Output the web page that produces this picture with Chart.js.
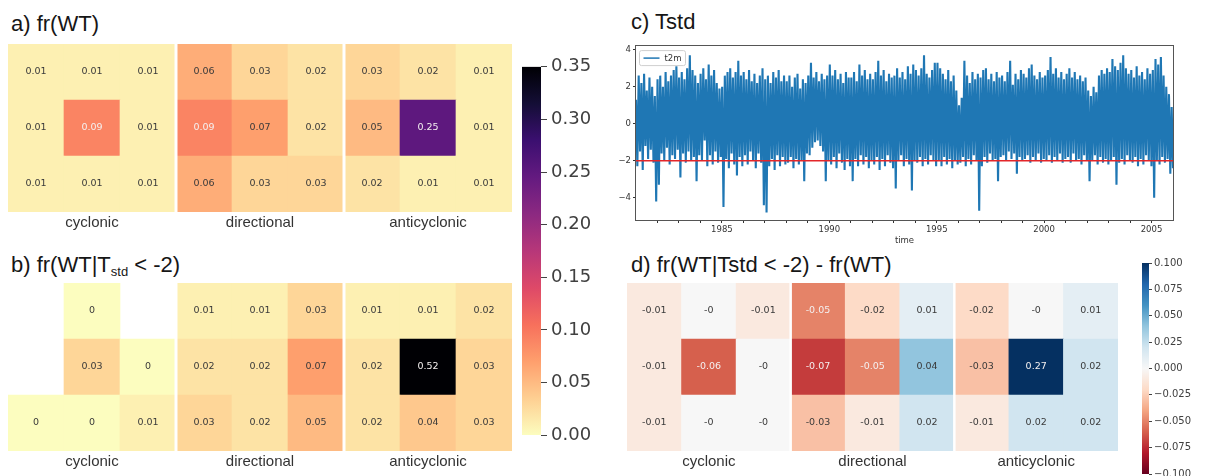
<!DOCTYPE html>
<html>
<head>
<meta charset="utf-8">
<script src="https://cdn.jsdelivr.net/npm/chart.js@4.4.1/dist/chart.umd.min.js"></script>
<style>
  body { margin: 0; width: 1212px; height: 476px; overflow: hidden; background: #fff; position: relative; }
  .box { position: absolute; }
  .title { position: absolute; font-family: 'Liberation Sans', Arial, sans-serif; font-size: 22px; line-height: 26px; color: #161616; white-space: nowrap; }
  .title sub { font-size: 13px; vertical-align: -4px; line-height: 0; }
</style>
</head>
<body>
<div class="title" style="left:11px;top:11px">a) fr(WT)</div>
<div class="title" style="left:11px;top:252px">b) fr(WT|T<sub>std</sub> &lt; -2)</div>
<div class="title" style="left:631px;top:9px">c) Tstd</div>
<div class="title" style="left:631px;top:252px">d) fr(WT|Tstd &lt; -2) - fr(WT)</div>

<div class="box" style="left:8px;top:44px;width:504px;height:190px"><canvas id="hmA"></canvas></div>
<div class="box" style="left:8px;top:283px;width:504px;height:190px"><canvas id="hmB"></canvas></div>
<div class="box" style="left:522px;top:52px;width:90px;height:398px"><canvas id="cbA"></canvas></div>
<div class="box" style="left:596px;top:38px;width:584px;height:210px"><canvas id="tsC"></canvas></div>
<div class="box" style="left:627px;top:283px;width:491px;height:190px"><canvas id="hmD"></canvas></div>
<div class="box" style="left:1142px;top:255px;width:70px;height:229px"><canvas id="cbD"></canvas></div>

<script>
"use strict";

/* ---- data ---- */
var groups = ['cyclonic', 'directional', 'anticyclonic'];

// a) fr(WT), rows top -> bottom
var frWT = [
  [0.01, 0.01, 0.01, 0.06, 0.03, 0.02, 0.03, 0.02, 0.01],
  [0.01, 0.09, 0.01, 0.09, 0.07, 0.02, 0.05, 0.25, 0.01],
  [0.01, 0.01, 0.01, 0.06, 0.03, 0.03, 0.02, 0.01, 0.01]
];
// b) fr(WT | Tstd < -2), null = no data
var frCold = [
  [null, 0,    null, 0.01, 0.01, 0.03, 0.01, 0.01, 0.02],
  [null, 0.03, 0,    0.02, 0.02, 0.07, 0.02, 0.52, 0.03],
  [0,    0,    0.01, 0.03, 0.02, 0.05, 0.02, 0.04, 0.03]
];
// d) difference b - a
var frDiff = [
  [-0.01, -0,    -0.01, -0.05, -0.02, 0.01, -0.02, -0,   0.01],
  [-0.01, -0.06, -0,    -0.07, -0.05, 0.04, -0.03, 0.27, 0.02],
  [-0.01, -0,    -0,    -0.03, -0.01, 0.02, -0.01, 0.02, 0.02]
];

var cbRangeA = [0, 0.35], cbStepA = 0.05;
var cbRangeD = [-0.1, 0.1], cbStepD = 0.025;

// c) standardised t2m: alternating high / low swings, one row per year
var tStart = 1981, tEnd = 2006;
var t2m = [
  1.3,-2.3, 2.6,-1.5, 2.2,-2.5, 2.7,-1.2, 1.8,-1.9, 2.5,-1.4, 2.0,-2.1, 1.5,-4.2,
  2.4,-3.3, 2.6,-1.6, 2.0,-2.0, 2.8,-1.3, 2.3,-2.2, 2.6,-1.7, 2.9,-1.9, 3.1,-1.4,
  2.5,-2.9, 2.8,-1.6, 2.4,-2.1, 3.0,-1.5, 3.7,-2.0, 2.9,-1.8, 2.6,-3.1, 2.2,-1.7,
  2.7,-2.0, 3.0,-0.9, 2.4,-2.3, 3.2,-1.7, 2.6,-2.2, 2.9,-1.5, 2.2,-2.1, 1.9,-1.8,
  2.0,-4.5, 2.6,-1.9, 2.8,-2.4, 3.0,-1.6, 2.5,-2.2, 2.8,-2.8, 3.4,-1.8, 2.6,-2.3,
  2.8,-1.7, 2.4,-2.2, 2.9,-1.5, 2.3,-2.0, 2.7,-2.4, 2.2,-1.6, 2.6,-2.1, 3.0,-4.4,
  2.4,-4.8, 2.6,-2.3, 2.2,-1.9, 2.8,-2.5, 2.5,-1.7, 2.9,-2.3, 2.3,-1.8, 2.6,-2.2,
  2.3,-2.1, 2.6,-1.8, 2.0,-2.4, 2.5,-1.9, 2.7,-2.2, 1.9,-2.0, 2.4,-3.1, 2.2,-1.6,
  2.6,-1.7, 3.3,-1.3, 2.5,-1.0, 2.8,-0.9, 2.3,-1.2, 2.7,-1.5, 2.4,-3.1, 2.6,-2.0,
  3.2,-2.2, 2.6,-1.8, 2.9,-2.4, 2.4,-1.6, 2.7,-2.1, 2.2,-2.5, 2.8,-1.9, 2.5,-2.3,
  2.5,-3.1, 2.8,-1.9, 2.3,-2.3, 3.2,-1.7, 2.6,-2.2, 2.9,-1.8, 2.4,-2.4, 2.7,-2.0,
  2.4,-2.2, 2.8,-1.8, 3.4,-2.5, 2.6,-1.9, 2.9,-2.3, 2.3,-1.7, 2.7,-2.1, 2.5,-2.4,
  2.6,-3.5, 3.0,-2.0, 2.5,-1.7, 2.8,-2.3, 2.4,-1.9, 3.1,-2.2, 2.7,-3.6, 3.2,-2.0,
  2.9,-2.1, 2.6,-1.8, 3.0,-2.3, 3.7,-1.9, 2.7,-2.2, 2.5,-1.7, 2.9,-2.0, 3.3,-2.3,
  3.3,-2.0, 3.0,-2.3, 2.7,-1.8, 2.4,-2.2, 2.9,-1.9, 2.3,-2.4, 2.6,-2.0, 1.8,-2.2,
  1.0,-2.1, 1.4,-1.8, 3.4,-2.3, 2.6,-1.9, 2.2,-2.2, 2.8,-1.7, 2.4,-2.0, 2.7,-4.7,
  2.5,-2.3, 2.9,-1.8, 3.0,-2.1, 2.4,-1.6, 2.7,-2.0, 2.3,-1.9, 2.8,-3.1, 2.5,-1.8,
  2.6,-1.7, 2.3,-2.0, 2.8,-1.5, 3.4,-1.9, 2.1,-1.6, 2.7,-2.7, 2.4,-1.8, 2.9,-2.0,
  2.7,-1.9, 2.5,-1.7, 3.0,-2.1, 3.2,-1.8, 2.6,-2.0, 2.4,-1.6, 2.8,-2.1, 2.5,-1.9,
  2.6,-2.0, 2.9,-1.7, 3.6,-2.1, 2.7,-1.8, 3.0,-2.0, 2.5,-1.6, 2.8,-2.1, 2.4,-1.9,
  2.7,-1.8, 3.0,-2.1, 2.5,-1.6, 2.8,-2.0, 2.4,-1.9, 2.6,-2.2, 2.3,-1.7, 2.5,-2.0,
  1.8,-3.1, 1.5,-2.0, 2.0,-1.7, 1.7,-2.2, 2.6,-1.8, 2.9,-2.1, 2.7,-1.9, 3.0,-2.2,
  2.8,-2.0, 3.5,-1.8, 3.1,-3.3, 2.9,-2.1, 3.3,-1.9, 3.7,-2.2, 3.0,-1.7, 2.7,-2.0,
  2.9,-2.1, 2.5,-1.8, 3.1,-2.3, 2.6,-1.9, 2.8,-2.2, 2.4,-1.7, 3.0,-2.0, 2.7,-2.3,
  2.9,-4.0, 3.5,-2.0, 3.2,-2.2, 3.6,-1.8, 2.6,-2.1, 2.0,-1.9, 1.6,-2.7, 0.9,-2.4
];
var threshold = -2;
var yRangeC = [-5.2, 4.25];
var yTicksC = [-4, -2, 0, 2, 4];
var yearTicks = [1982, 1983, 1984, 1985, 1986, 1987, 1988, 1989, 1990, 1991, 1992, 1993,
                 1994, 1995, 1996, 1997, 1998, 1999, 2000, 2001, 2002, 2003, 2004, 2005];
var labelYears = [1985, 1990, 1995, 2000, 2005];

/* ---- colormaps ---- */
var MAGMA_R = ['#fcfdbf', '#fecf92', '#fe9f6d', '#f7705c', '#de4968', '#b73779',
               '#8c2981', '#641a80', '#3b0f70', '#140e36', '#000004'];
var RDBU = ['#67001f', '#b2182b', '#d6604d', '#f4a582', '#fddbc7', '#f7f7f7',
            '#d1e5f0', '#92c5de', '#4393c3', '#2166ac', '#053061'];

function hexRgb(h) { return [1, 3, 5].map(function(i) { return parseInt(h.substr(i, 2), 16); }); }
function colorAt(stops, t) {
  t = Math.max(0, Math.min(1, t));
  var p = t * (stops.length - 1), i = Math.min(Math.floor(p), stops.length - 2), f = p - i;
  var a = hexRgb(stops[i]), b = hexRgb(stops[i + 1]);
  return a.map(function(c, k) { return Math.round(c + (b[k] - c) * f); });
}
function luminance(rgb) {
  var l = rgb.map(function(c) { c /= 255; return c <= 0.03928 ? c / 12.92 : Math.pow((c + 0.055) / 1.055, 2.4); });
  return 0.2126 * l[0] + 0.7152 * l[1] + 0.0722 * l[2];
}
function fmtCell(v) { return Object.is(v, -0) ? '-0' : String(v); }
function fmtTick(v, d) { return (v < -1e-9 ? '\u2212' : '') + Math.abs(v).toFixed(d); }

Chart.defaults.font.family = "'DejaVu Sans', sans-serif";
Chart.defaults.animation = false;
Chart.defaults.events = [];

/* ---- plugins ---- */
var cellText = {
  id: 'cellText',
  afterDatasetsDraw: function(chart) {
    var ctx = chart.ctx;
    ctx.save();
    ctx.font = "9.5px 'DejaVu Sans', sans-serif";
    ctx.textAlign = 'center';
    ctx.textBaseline = 'middle';
    chart.data.datasets.forEach(function(ds, di) {
      chart.getDatasetMeta(di).data.forEach(function(bar, i) {
        var v = ds.cellValues[i];
        if (v === null) return;
        var p = bar.getProps(['x', 'y', 'base'], true);
        ctx.fillStyle = luminance(ds.cellRgb[i]) > 0.408 ? '#3a3a3a' : '#f4f0f0';
        ctx.fillText(fmtCell(v), p.x, (p.y + p.base) / 2);
      });
    });
    ctx.restore();
  }
};

var groupLines = {
  id: 'groupLines',
  afterDatasetsDraw: function(chart, args, opts) {
    var xs = chart.scales.x, a = chart.chartArea, ctx = chart.ctx;
    var per = chart.data.labels.length / groups.length;
    ctx.save();
    ctx.strokeStyle = '#fff';
    ctx.lineWidth = opts.width;
    for (var g = 1; g < groups.length; g++) {
      var x = (xs.getPixelForValue(g * per - 1) + xs.getPixelForValue(g * per)) / 2;
      ctx.beginPath(); ctx.moveTo(x, a.top - 1); ctx.lineTo(x, a.bottom + 1); ctx.stroke();
    }
    ctx.restore();
  }
};

var frame = {
  id: 'frame',
  afterDatasetsDraw: function(chart) {
    var a = chart.chartArea, ctx = chart.ctx;
    ctx.save();
    ctx.strokeStyle = '#555';
    ctx.lineWidth = 1;
    ctx.strokeRect(Math.round(a.left) - 0.5, Math.round(a.top) + 0.5, Math.round(a.width) + 1, Math.round(a.height));
    ctx.restore();
  }
};

var innerLegend = {
  id: 'innerLegend',
  afterDraw: function(chart) {
    var a = chart.chartArea, ctx = chart.ctx, ds = chart.data.datasets[0];
    var x = a.left + 3.5, y = a.top + 5.5, w = 46, h = 15;
    ctx.save();
    ctx.fillStyle = 'rgba(255,255,255,0.85)';
    ctx.strokeStyle = '#cfcfcf';
    ctx.lineWidth = 1;
    ctx.beginPath(); ctx.roundRect(x, y, w, h, 2); ctx.fill(); ctx.stroke();
    ctx.strokeStyle = ds.borderColor;
    ctx.lineWidth = 1.5;
    ctx.beginPath(); ctx.moveTo(x + 4, y + h / 2); ctx.lineTo(x + 20, y + h / 2); ctx.stroke();
    ctx.fillStyle = '#333';
    ctx.font = "8.5px 'DejaVu Sans', sans-serif";
    ctx.textBaseline = 'middle';
    ctx.fillText(ds.label, x + 25, y + h / 2 + 0.5);
    ctx.restore();
  }
};

/* ---- heatmaps ---- */
var colLabels = [];
groups.forEach(function(g) { colLabels.push('', g, ''); });

function heatmap(id, rows, stops, range, sepWidth) {
  var sets = rows.slice().reverse().map(function(row) {
    var rgb = row.map(function(v) { return v === null ? null : colorAt(stops, (v - range[0]) / (range[1] - range[0])); });
    return {
      data: row.map(function(v) { return v === null ? null : 1; }),
      cellValues: row,
      cellRgb: rgb,
      backgroundColor: rgb.map(function(c) { return c ? 'rgb(' + c.join(',') + ')' : 'transparent'; }),
      borderWidth: 0,
      barPercentage: 1,
      categoryPercentage: 1
    };
  });
  return new Chart(document.getElementById(id), {
    type: 'bar',
    data: { labels: colLabels, datasets: sets },
    plugins: [groupLines, cellText],
    options: {
      responsive: true,
      maintainAspectRatio: false,
      layout: { autoPadding: false, padding: 0 },
      plugins: { legend: { display: false }, tooltip: { enabled: false }, groupLines: { width: sepWidth } },
      scales: {
        x: {
          stacked: true,
          grid: { display: false, drawTicks: false },
          border: { display: false },
          ticks: { autoSkip: false, maxRotation: 0, minRotation: 0, padding: 2, color: '#333',
                   font: { family: "'Liberation Sans', Arial, sans-serif", size: 15 } },
          afterFit: function(s) { s.height = 22; }
        },
        y: { stacked: true, display: false, min: 0, max: rows.length }
      }
    }
  });
}

function colorbar(id, stops, range, step, decimals, opt) {
  return new Chart(document.getElementById(id), {
    type: 'bar',
    data: {
      labels: [''],
      datasets: [{
        data: [[range[0], range[1]]],
        backgroundColor: function(c) {
          var a = c.chart.chartArea;
          if (!a) return stops[0];
          var g = c.chart.ctx.createLinearGradient(0, a.bottom, 0, a.top);
          stops.forEach(function(s, i) { g.addColorStop(i / (stops.length - 1), s); });
          return g;
        },
        borderWidth: 0,
        barPercentage: 1,
        categoryPercentage: 1
      }]
    },
    options: {
      responsive: true,
      maintainAspectRatio: false,
      layout: { autoPadding: false, padding: { top: opt.padTop, bottom: opt.padBottom, left: 0, right: 0 } },
      plugins: { legend: { display: false }, tooltip: { enabled: false } },
      scales: {
        x: { display: false },
        y: {
          position: 'right',
          min: range[0],
          max: range[1],
          grid: { drawOnChartArea: false, tickLength: opt.tick, tickColor: '#444' },
          border: { display: false },
          ticks: { stepSize: step, padding: opt.pad, color: '#404040', font: { size: opt.size },
                   callback: function(v) { return fmtTick(v, decimals); } },
          afterFit: function(s) { s.width = opt.axisWidth; }
        }
      }
    }
  });
}

heatmap('hmA', frWT, MAGMA_R, cbRangeA, 3);
heatmap('hmB', frCold, MAGMA_R, cbRangeA, 3);
heatmap('hmD', frDiff, RDBU, cbRangeD, 2.5);
colorbar('cbA', MAGMA_R, cbRangeA, cbStepA, 2, { padTop: 12, padBottom: 12, tick: 6, pad: 4, size: 18, axisWidth: 71 });
colorbar('cbD', RDBU, cbRangeD, cbStepD, 3, { padTop: 8, padBottom: 10, tick: 3, pad: 2, size: 10, axisWidth: 63 });

/* ---- time series ---- */
var tStep = (tEnd - tStart) / (t2m.length - 1);
new Chart(document.getElementById('tsC'), {
  type: 'line',
  data: {
    datasets: [{
      label: 't2m',
      data: t2m.map(function(v, i) { return { x: tStart + i * tStep, y: v }; }),
      borderColor: '#1f77b4',
      borderWidth: 2.1,
      pointRadius: 0,
      tension: 0,
      order: 2
    }, {
      label: 'threshold',
      data: [{ x: tStart, y: threshold }, { x: tEnd, y: threshold }],
      borderColor: '#e3262a',
      borderWidth: 1.6,
      pointRadius: 0,
      order: 1
    }]
  },
  plugins: [frame, innerLegend],
  options: {
    responsive: true,
    maintainAspectRatio: false,
    layout: { autoPadding: false, padding: { top: 6, right: 7, left: 0, bottom: 0 } },
    plugins: { legend: { display: false }, tooltip: { enabled: false } },
    scales: {
      x: {
        type: 'linear',
        min: tStart,
        max: tEnd,
        grid: { drawOnChartArea: false, tickLength: 3, tickColor: '#333' },
        border: { display: false },
        afterBuildTicks: function(s) { s.ticks = yearTicks.map(function(v) { return { value: v }; }); },
        ticks: { autoSkip: false, maxRotation: 0, padding: 2, color: '#333', font: { size: 8.5 },
                 callback: function(v) { return labelYears.indexOf(v) >= 0 ? String(v) : ''; } },
        title: { display: true, text: 'time', color: '#333', font: { size: 8.5 }, padding: { top: 0, bottom: 2 } },
        afterFit: function(s) { s.height = 28; }
      },
      y: {
        min: yRangeC[0],
        max: yRangeC[1],
        grid: { drawOnChartArea: false, tickLength: 3, tickColor: '#333' },
        border: { display: false },
        afterBuildTicks: function(s) { s.ticks = yTicksC.map(function(v) { return { value: v }; }); },
        ticks: { padding: 2, color: '#333', font: { size: 8.5 },
                 callback: function(v) { return (v < 0 ? '\u2212' : '') + Math.abs(v); } },
        afterFit: function(s) { s.width = 40; }
      }
    }
  }
});
</script>
</body>
</html>
